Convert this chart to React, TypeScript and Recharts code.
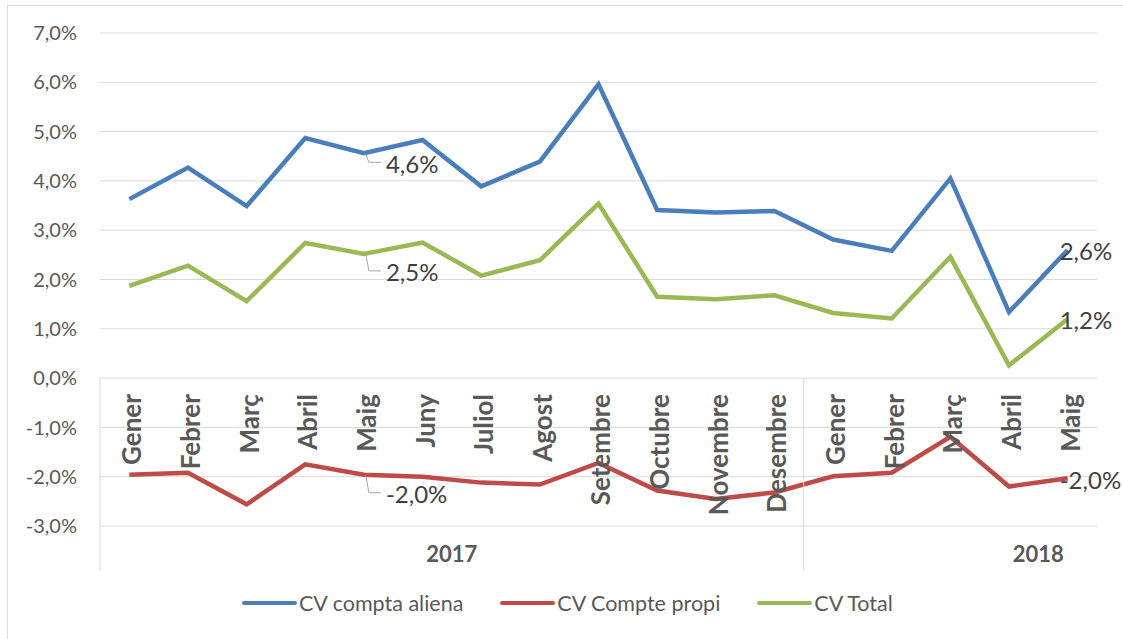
import React from 'react';
import {
  LineChart, Line, XAxis, YAxis, CartesianGrid, LabelList,
} from 'recharts';

const MONTHS = [
  'Gener', 'Febrer', 'Març', 'Abril', 'Maig', 'Juny', 'Juliol', 'Agost',
  'Setembre', 'Octubre', 'Novembre', 'Desembre',
  'Gener', 'Febrer', 'Març', 'Abril', 'Maig',
];
const YEARS = ['2017', '2018'];
const YEAR_OF = [0, 0, 0, 0, 0, 0, 0, 0, 0, 0, 0, 0, 1, 1, 1, 1, 1];

const COMPTA_ALIENA = [3.63, 4.27, 3.49, 4.87, 4.56, 4.83, 3.89, 4.39, 5.96, 3.41, 3.36, 3.39, 2.81, 2.58, 4.05, 1.34, 2.6];
const COMPTE_PROPI = [-1.96, -1.92, -2.56, -1.75, -1.96, -2.0, -2.12, -2.16, -1.72, -2.28, -2.45, -2.32, -1.99, -1.92, -1.19, -2.2, -2.03];
const TOTAL = [1.87, 2.28, 1.56, 2.74, 2.52, 2.75, 2.08, 2.39, 3.54, 1.65, 1.6, 1.68, 1.32, 1.21, 2.46, 0.26, 1.2];

const Y_TICKS = [-3, -2, -1, 0, 1, 2, 3, 4, 5, 6, 7];
const LABELED = [4, 16];

const SERIES = [
  { key: 'aliena', name: 'CV compta aliena', color: '#4A7EBB', dy: 10 },
  { key: 'propi', name: 'CV Compte propi', color: '#BE4B48', dy: 19 },
  { key: 'total', name: 'CV Total', color: '#98B954', dy: 18 },
];

const data = MONTHS.map((m, i) => ({
  id: `${YEARS[YEAR_OF[i]]}-${m}`,
  aliena: COMPTA_ALIENA[i],
  propi: COMPTE_PROPI[i],
  total: TOTAL[i],
}));

// layout
const W = 1123;
const H = 639;
const Y_AXIS_W = 100;
const X_AXIS_H = 113;
const TOP = 33;
const RIGHT = 26;
const Y_MIN = -3;
const Y_MAX = 7;
const PLOT_H = H - TOP - X_AXIS_H;
const ZERO_Y = TOP + (PLOT_H * Y_MAX) / (Y_MAX - Y_MIN);
const BAND = (W - Y_AXIS_W - RIGHT) / MONTHS.length;
const FONT = 'Lato, "Open Sans", sans-serif';
const TEXT = '#595959';
const GRID = '#D9D9D9';

const fmt = (v: number) => `${v.toFixed(1).replace('.', ',')}%`;

function MonthTick(props: any) {
  const { x, payload } = props;
  const i = payload.index;
  const first = i === 0 || YEAR_OF[i] !== YEAR_OF[i - 1];
  const yearCount = YEAR_OF.filter((y) => y === YEAR_OF[i]).length;
  const startIdx = YEAR_OF.indexOf(YEAR_OF[i]);
  // Excel puts the 2017 label centred, 2018 is pushed near the end
  const yearLabelIdx = YEAR_OF[i] === 0 ? startIdx + Math.floor((yearCount - 1) / 2) : startIdx + yearCount - 2;
  return (
    <g>
      <text
        x={x + 2}
        y={ZERO_Y + 16}
        transform={`rotate(-90, ${x + 2}, ${ZERO_Y + 16})`}
        textAnchor="end"
        dominantBaseline="central"
        fill={TEXT}
        fontFamily={FONT}
        fontWeight={700}
        fontSize={26}
      >
        {MONTHS[i]}
      </text>
      {first && (
        <line x1={x - BAND / 2} x2={x - BAND / 2} y1={ZERO_Y} y2={H - X_AXIS_H + 45} stroke={GRID} />
      )}
      {i === yearLabelIdx && (
        <text
          x={x + BAND / 2}
          y={H - X_AXIS_H + 27}
          textAnchor="middle"
          dominantBaseline="central"
          fill={TEXT}
          fontFamily={FONT}
          fontWeight={700}
          fontSize={22}
        >
          {YEARS[YEAR_OF[i]]}
        </text>
      )}
    </g>
  );
}

function makeLabel(dy: number) {
  return function PointLabel(props: any) {
    const { x, y, index, value } = props;
    if (!LABELED.includes(index)) return null;
    const last = index === MONTHS.length - 1;
    if (last) {
      return (
        <text x={x - 8} y={y + 1} dominantBaseline="central" fill="#404040" fontFamily={FONT} fontSize={24}>
          {fmt(value)}
        </text>
      );
    }
    return (
      <g>
        <polyline
          points={`${x + 2},${y + 1} ${x + 5},${y + dy - 1} ${x + 17},${y + dy - 1}`}
          fill="none"
          stroke="#A6A6A6"
          strokeWidth={1}
        />
        <text x={x + 22} y={y + dy} dominantBaseline="central" fill="#404040" fontFamily={FONT} fontSize={24}>
          {fmt(value)}
        </text>
      </g>
    );
  };
}

function LegendRow() {
  return (
    <div
      style={{
        position: 'absolute', left: 242, top: 590, display: 'flex', gap: 37,
        fontFamily: FONT, fontSize: 21.5, color: TEXT, lineHeight: '26px', whiteSpace: 'nowrap',
      }}
    >
      {SERIES.map((s) => (
        <div key={s.key} style={{ display: 'flex', alignItems: 'center' }}>
          <span style={{ display: 'inline-block', width: 55, height: 4, borderRadius: 2, background: s.color, marginRight: 2 }} />
          <span>{s.name}</span>
        </div>
      ))}
    </div>
  );
}

export default function App() {
  return (
    <div style={{ position: 'absolute', left: 0, top: 0, width: W, height: H, overflow: 'hidden', background: '#fff' }}>
      <div style={{ position: 'absolute', left: 7, top: 5, width: W, height: H, border: `1px solid ${GRID}` }} />
      <div style={{ position: 'absolute', left: 0, top: 0 }}>
        <LineChart width={W} height={H} data={data} margin={{ top: TOP, right: RIGHT, left: 0, bottom: 0 }}>
          <CartesianGrid vertical={false} stroke={GRID} />
          <XAxis
            dataKey="id"
            height={X_AXIS_H}
            interval={0}
            axisLine={false}
            tickLine={false}
            padding={{ left: BAND / 2, right: BAND / 2 }}
            tick={<MonthTick />}
          />
          <YAxis
            width={Y_AXIS_W}
            domain={[Y_MIN, Y_MAX]}
            ticks={Y_TICKS}
            interval={0}
            axisLine={false}
            tickLine={false}
            tickSize={0}
            tickMargin={23}
            tickFormatter={fmt}
            tick={{ fill: TEXT, fontSize: 20, fontFamily: FONT }}
          />
          {SERIES.map((s) => (
            <Line
              key={s.key}
              dataKey={s.key}
              name={s.name}
              stroke={s.color}
              strokeWidth={4.5}
              dot={false}
              activeDot={false}
              isAnimationActive={false}
            >
              <LabelList dataKey={s.key} content={makeLabel(s.dy)} />
            </Line>
          ))}
        </LineChart>
      </div>
      <LegendRow />
    </div>
  );
}
